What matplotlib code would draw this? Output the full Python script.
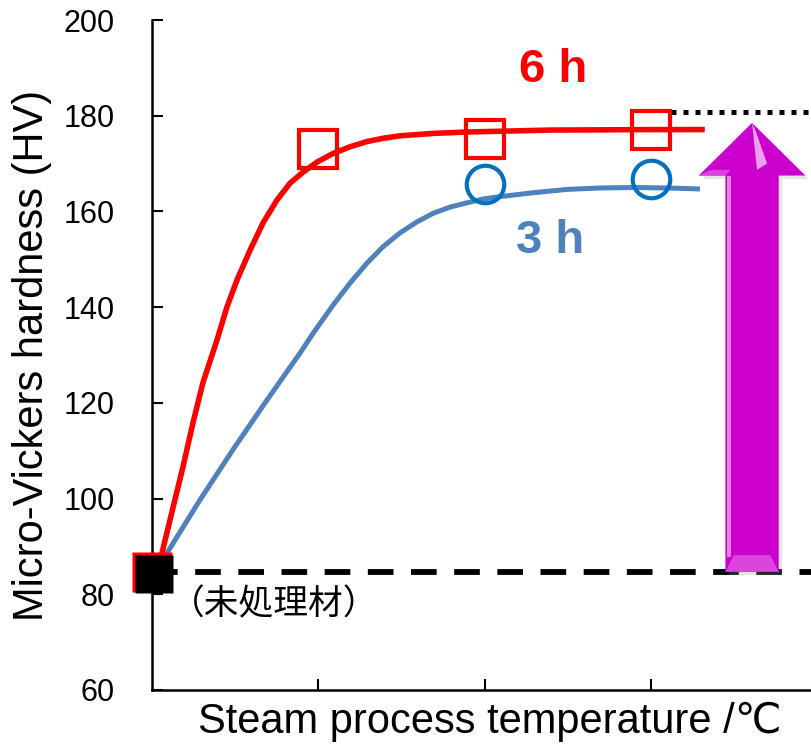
import matplotlib.pyplot as plt
import matplotlib.transforms as mtransforms
from matplotlib.patches import FancyArrow, Polygon, Rectangle

plt.rcParams['font.family'] = ['Liberation Sans', 'DejaVu Sans', 'Noto Sans CJK JP']
plt.rcParams['font.size'] = 22

# measured points (x = position index along temperature axis)
untreated_x = [0]
untreated_y = [84.7]
h6_x = [1, 2, 3]
h6_y = [173.0, 175.2, 177.0]
h3_x = [2, 3]
h3_y = [165.7, 166.8]

# fitted trend curves
curve6_x = [0, 0.060, 0.108, 0.186, 0.246, 0.306, 0.390, 0.450, 0.511, 0.589, 0.667,
            0.751, 0.829, 0.907, 0.991, 1.087, 1.189, 1.291, 1.390, 1.489, 1.688, 1.892,
            2.39, 2.99, 3.32]
curve6_y = [84.7, 88.6, 95.5, 106.6, 115.8, 124.2, 133.1, 140.0, 145.7, 151.9, 157.6,
            162.4, 165.9, 168.2, 170.3, 172.1, 173.5, 174.6, 175.3, 175.8, 176.3, 176.6,
            177.0, 177.1, 177.1]
curve3_x = [0, 0.09, 0.288, 0.486, 0.691, 0.889, 0.967, 1.087, 1.189, 1.291, 1.387,
            1.489, 1.591, 1.688, 1.790, 1.892, 1.988, 2.090, 2.288, 2.492, 2.691,
            2.889, 3.093, 3.291]
curve3_y = [84.7, 88.6, 99.7, 110.2, 120.6, 130.4, 134.5, 140.4, 145.0, 149.2, 152.6,
            155.5, 157.8, 159.6, 160.9, 161.8, 162.6, 163.1, 163.9, 164.6, 164.9,
            165.0, 164.9, 164.7]

base_level = 84.7
target_level = 180.7

fig = plt.figure(figsize=(8.11, 7.55), dpi=100)
ax = fig.add_axes([0.1874, 0.0861, 0.8126, 0.8874])

xmax = 3.958
ax.set_xlim(0, xmax)
ax.set_ylim(60, 200)

# reference lines
ax.axhline(base_level, color='black', lw=4.2, dashes=(4.4, 3.0), zorder=1)
ax.hlines(target_level, 3.12, xmax, color='black', lw=3.6, linestyles=(0, (1, 1.4)), zorder=1)

ax.plot(curve3_x, curve3_y, color='#4F81BD', lw=3.6, zorder=2,
        solid_capstyle='butt', solid_joinstyle='round')
ax.plot(curve6_x, curve6_y, color='#FF0000', lw=4.0, zorder=3,
        solid_capstyle='butt', solid_joinstyle='round')

ax.plot(h6_x, h6_y, 's', ms=27, mfc='none', mec='#FF0000', mew=3, zorder=4)
ax.plot(h3_x, h3_y, 'o', ms=27, mfc='none', mec='#0070C0', mew=3, zorder=4)

ax.plot(untreated_x, untreated_y, 's', ms=29, mfc='#FF0000', mec='none', zorder=5, clip_on=False)
off = mtransforms.offset_copy(ax.transData, fig=fig, x=1.5, y=-1.5, units='points')
ax.plot(untreated_x, untreated_y, 's', ms=28, mfc='black', mec='none', zorder=6,
        clip_on=False, transform=off)

# big magenta arrow
ax_c = 3.604
shaft_w = 0.32
head_w = 0.64
head_len = 11
tip = 178.5
shadow = mtransforms.offset_copy(ax.transData, fig=fig, x=2.5, y=-2.5, units='points')
ax.add_patch(FancyArrow(ax_c, base_level, 0, tip - base_level, width=shaft_w, head_width=head_w,
                        head_length=head_len, length_includes_head=True,
                        color='#999999', alpha=0.25, lw=0, transform=shadow, zorder=6))
ax.add_patch(FancyArrow(ax_c, base_level, 0, tip - base_level, width=shaft_w, head_width=head_w,
                        head_length=head_len, length_includes_head=True,
                        color='#CC00CC', lw=0, zorder=7))
sl = ax_c - shaft_w / 2
sr = ax_c + shaft_w / 2
hb = tip - head_len
ax.add_patch(Rectangle((sl + 0.01, base_level + 3), 0.025, hb - base_level - 3,
                       color='#E680E6', lw=0, zorder=8))
ax.add_patch(Polygon([(sl, base_level), (sr, base_level), (sr - 0.05, base_level + 3.5),
                      (sl + 0.05, base_level + 3.5)], color='#DD44DD', lw=0, zorder=8))
ax.add_patch(Polygon([(ax_c, tip), (ax_c + 0.02, tip - 1.5), (ax_c + 0.09, hb + 2.5),
                      (ax_c + 0.03, hb + 1.2)], color='#EEA0EE', lw=0, zorder=8))
ax.add_patch(Polygon([(ax_c - head_w / 2, hb), (sl, hb), (sl + 0.03, hb + 1.2),
                      (ax_c - head_w / 2 + 0.07, hb + 1.2)], color='#DD44DD', lw=0, zorder=8))

# labels
ax.text(2.41, 189.6, '6 h', color='#FF0000', fontsize=34, fontweight='bold',
        ha='center', va='center')
ax.text(2.39, 153.8, '3 h', color='#4F81BD', fontsize=34, fontweight='bold',
        ha='center', va='center')
ax.text(0.11, 77.8, '（未処理材）', fontsize=25, ha='left', va='center',
        family=['Noto Sans CJK JP', 'DejaVu Sans'])

ax.set_ylabel('Micro-Vickers hardness (HV)', fontsize=30)
ax.yaxis.set_label_coords(-0.152, 0.5)
ax.set_xlabel('Steam process temperature /℃', fontsize=30)
ax.xaxis.set_label_coords(0.513, -0.018)

ax.set_yticks(range(60, 201, 20))
ax.set_xticks([1, 2, 3])
ax.set_xticklabels([])
ax.tick_params(direction='in', length=8, width=1.5, color='black')
ax.tick_params(axis='y', pad=27, labelsize=22)

for s in ['top', 'right']:
    ax.spines[s].set_visible(False)
for s in ['left', 'bottom']:
    ax.spines[s].set_linewidth(1.8)

fig.savefig('out.png', dpi=100)
